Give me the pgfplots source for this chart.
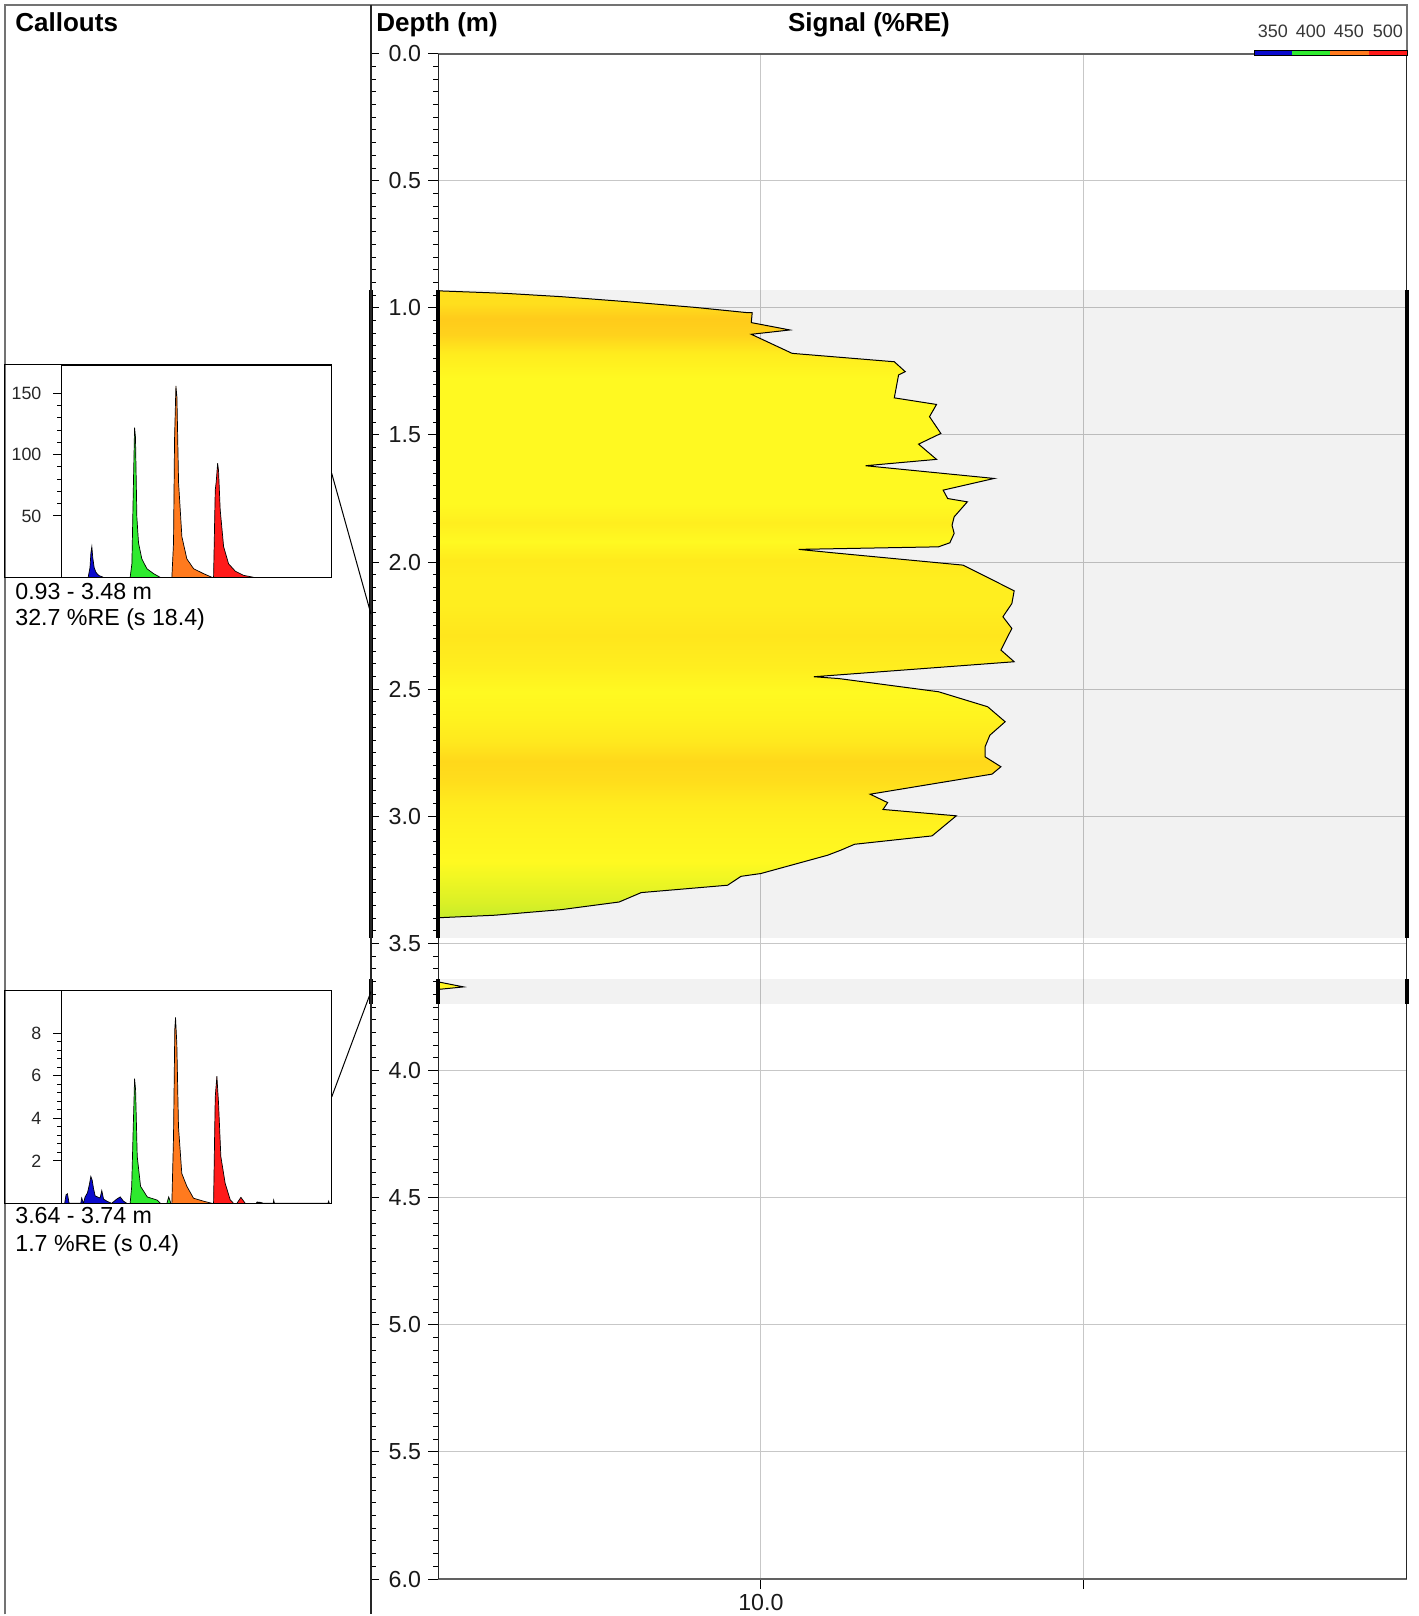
\documentclass[border=0pt]{standalone}
\usepackage{pgfplots}
\pgfplotsset{compat=1.18}
\usepackage{pgfplotstable}
\usepackage{fontspec}
\setmainfont{Liberation Sans}

\definecolor{cyel}{HTML}{FFF521}
\definecolor{sh1}{HTML}{C6EC2A}
\definecolor{sh2}{HTML}{DAF026}
\definecolor{sh3}{HTML}{EEF623}
\definecolor{shY}{HTML}{FFF921}
\definecolor{sh5}{HTML}{FFF31F}
\definecolor{sh6}{HTML}{FFEC1E}
\definecolor{sh7}{HTML}{FFDD1C}
\definecolor{sh8}{HTML}{FFD81B}
\definecolor{sh9}{HTML}{FFE81E}
\definecolor{sh10}{HTML}{FFEE1F}
\definecolor{sh11}{HTML}{FFE61D}
\definecolor{sh12}{HTML}{FFEA1D}
\definecolor{sh13}{HTML}{FFD21C}
\definecolor{sh14}{HTML}{FFCB1B}
\definecolor{sh15}{HTML}{FFDF1D}
\definecolor{cblue}{HTML}{0A0ACD}
\definecolor{cgreen}{HTML}{2EEA2E}
\definecolor{corange}{HTML}{FF7A1E}
\definecolor{cred}{HTML}{FF1A1A}

\pgfdeclareverticalshading{depthbands}{100bp}{color(0bp)=(sh1); color(25bp)=(sh1); color(26.2bp)=(sh2); color(28bp)=(sh3); color(29.5bp)=(shY); color(32bp)=(sh5); color(34bp)=(sh6); color(36bp)=(sh7); color(37.5bp)=(sh8); color(39bp)=(sh9); color(41bp)=(sh5); color(43bp)=(shY); color(45bp)=(sh10); color(47.5bp)=(sh11); color(50bp)=(sh10); color(52bp)=(sh10); color(53.5bp)=(sh12); color(55bp)=(shY); color(56.5bp)=(sh10); color(58bp)=(shY); color(68bp)=(shY); color(70bp)=(sh6); color(71.5bp)=(sh13); color(72.8bp)=(sh14); color(74bp)=(sh15); color(75bp)=(sh15); color(100bp)=(sh15)}

\pgfplotstableread{
s d
1.00 0.933
1.62 0.943
2.41 0.956
3.87 0.976
6.23 0.998
9.11 1.019
9.40 1.019
9.34 1.058
12.3 1.087
9.34 1.104
12.5 1.179
25.9 1.212
28.0 1.251
26.7 1.264
25.9 1.354
35.0 1.380
33.3 1.428
36.1 1.494
30.8 1.536
35.0 1.596
21.1 1.621
52.8 1.671
36.7 1.717
37.9 1.750
43.6 1.763
39.7 1.822
39.1 1.855
39.7 1.887
38.5 1.924
35.5 1.940
13.1 1.950
16.6 1.963
42.3 2.012
60.9 2.113
59.9 2.163
56.2 2.215
59.9 2.261
55.4 2.346
60.9 2.392
14.6 2.451
17.4 2.458
35.5 2.510
50.4 2.569
57.1 2.628
51.2 2.681
49.5 2.726
49.5 2.766
55.4 2.805
52.0 2.834
21.8 2.913
24.7 2.946
23.9 2.973
40.3 2.998
33.9 3.077
19.5 3.110
17.7 3.133
16.1 3.153
10.0 3.225
8.68 3.236
7.89 3.271
4.26 3.300
3.64 3.337
2.41 3.367
1.50 3.389
1.00 3.399
}\profile

\begin{document}
\begin{tikzpicture}
\fill[white] (0,0) rectangle (709.5bp,-808bp);

% depth scale line (separator) with ticks pointing right
\begin{axis}[at={(185.5bp,-26.8bp)}, anchor=north west, scale only axis,
  width=33.5bp, height=762.7bp, xmin=0, xmax=1, ymin=0, ymax=6, y dir=reverse,
  axis line style={draw=none}, xtick=\empty,
  ytick={0,0.5,1,1.5,2,2.5,3,3.5,4,4.5,5,5.5,6}, yticklabels={},
  minor y tick num=9, ytick pos=left, tick align=inside,
  major tick length=4bp, minor tick length=2.5bp,
  tick style={black, line width=0.5bp}, clip=false]
\addplot[black, line width=2bp] coordinates {(0,0.93) (0,3.48)};
\addplot[black, line width=2bp] coordinates {(0,3.64) (0,3.74)};
\end{axis}

% main signal axis
\begin{axis}[at={(219bp,-26.8bp)}, anchor=north west, scale only axis,
  width=484.3bp, height=762.7bp,
  xmode=log, xmin=1, xmax=1000, ymin=0, ymax=6, y dir=reverse, clip=false,
  xtick={10,100}, xticklabels={10.0,{}}, minor x tick style={draw=none},
  ytick={0,0.5,1,1.5,2,2.5,3,3.5,4,4.5,5,5.5,6},
  yticklabels={0.0,0.5,1.0,1.5,2.0,2.5,3.0,3.5,4.0,4.5,5.0,5.5,6.0},
  minor y tick num=9, ytick pos=left, xtick pos=bottom,
  tick align=outside, major tick length=5bp, minor tick length=2.5bp,
  tick style={black, line width=0.5bp},
  grid=major, major grid style={black!22, line width=0.5bp},
  separate axis lines,
  x axis line style={draw=black!62, line width=1.1bp},
  y axis line style={draw=black!85, line width=0.5bp},
  tick label style={font=\fontsize{11.6bp}{13bp}\selectfont, text=black!90},
  xticklabel style={inner sep=0pt, yshift=-2.6bp}]
\addplot[fill=black, fill opacity=0.05, draw=none] coordinates {(1,0.93) (1000,0.93) (1000,3.48) (1,3.48)};
\addplot[fill=black, fill opacity=0.05, draw=none] coordinates {(1,3.64) (1000,3.64) (1000,3.74) (1,3.74)};
\addplot[draw=black, line width=0.5bp, shade, shading=depthbands] table[x=s,y=d]{\profile};
\addplot[draw=black, line width=0.5bp, fill=cyel] coordinates {(1,3.651) (1.2,3.671) (1,3.681)};
\addplot[black, line width=2bp] coordinates {(1,0.93) (1,3.48)};
\addplot[black, line width=2bp] coordinates {(1,3.64) (1,3.74)};
\addplot[black, line width=2bp] coordinates {(1000,0.93) (1000,3.48)};
\addplot[black, line width=2bp] coordinates {(1000,3.64) (1000,3.74)};
\end{axis}

% callout 1 spectrum
\begin{axis}[at={(30.5bp,-182.5bp)}, anchor=north west, scale only axis,
  width=135.35bp, height=106.15bp, xmin=335, xmax=629, ymin=0, ymax=173,
  xtick=\empty, ytick={50,100,150}, yticklabels={50,100,150},
  minor y tick num=4, ytick pos=left, tick align=outside,
  major tick length=3.8bp, minor tick length=1.8bp,
  tick style={black, line width=0.5bp},
  axis line style={black, line width=0.5bp},
  tick label style={font=\fontsize{8.9bp}{10bp}\selectfont, text=black!85},
  yticklabel style={xshift=-2.5bp}]
\addplot[fill=cblue, draw=black, line width=0.35bp] coordinates {(364.5,0) (366.5,8) (367.5,20) (368.5,25) (369.5,16) (371,8) (373,4) (376,1.5) (381,0)};
\addplot[fill=cgreen, draw=black, line width=0.35bp] coordinates {(410.1,0) (412.0,11) (413.8,82) (414.9,122) (415.9,114) (417.4,49) (419.2,28) (422.8,15) (428.3,7) (435.5,3) (442.7,0)};
\addplot[fill=corange, draw=black, line width=0.35bp] coordinates {(455.4,0) (457.2,28) (458.3,112) (459.8,156) (460.9,147) (462.7,77) (466.3,33) (471.7,15) (479.0,7) (489.8,3) (498.9,0)};
\addplot[fill=cred, draw=black, line width=0.35bp] coordinates {(500.7,0) (502.5,71) (503.6,78) (505.1,93) (506.1,87) (507.9,55) (511.6,25) (517,11) (524.3,5) (533.3,1.6) (544.2,0)};
\end{axis}

% callout 2 spectrum
\begin{axis}[at={(30.5bp,-495.35bp)}, anchor=north west, scale only axis,
  width=135.35bp, height=106.3bp, xmin=335, xmax=629, ymin=0, ymax=10,
  xtick=\empty, ytick={2,4,6,8}, yticklabels={2,4,6,8},
  minor y tick num=4, ytick pos=left, tick align=outside,
  major tick length=3.8bp, minor tick length=1.8bp,
  tick style={black, line width=0.5bp},
  axis line style={black, line width=0.5bp},
  tick label style={font=\fontsize{8.9bp}{10bp}\selectfont, text=black!85},
  yticklabel style={xshift=-2.5bp}]
\addplot[fill=cblue, draw=black, line width=0.35bp] coordinates {(339,0) (340.5,0.4) (342,0.45) (343.8,0) (356.5,0) (357.5,0.25) (359.4,0) (361.2,0.3) (363.8,0.5) (365.9,0.9) (367.4,1.26) (368.8,1.1) (370.3,0.7) (372.1,0.35) (374.6,0.3) (377.5,0.25) (379.3,0.6) (381.2,0.2) (384.8,0.1) (390,0) (395.6,0.2) (399.3,0.3) (402.9,0.1) (406.5,0)};
\addplot[fill=cgreen, draw=black, line width=0.35bp] coordinates {(410.1,0) (411.8,0.8) (413.4,3.5) (414.2,4.7) (414.9,5.86) (416.0,5.35) (417.8,2.2) (421.4,0.8) (428.7,0.3) (439.5,0.15) (443,0)};
\addplot[fill=cgreen, draw=black, line width=0.35bp] coordinates {(450,0) (452,0.3) (454.3,0)};
\addplot[fill=corange, draw=black, line width=0.35bp] coordinates {(455.4,0) (457.2,3.15) (458.6,8.2) (459.4,8.74) (460.8,7.5) (462.6,3.6) (466.2,1.4) (471.7,0.8) (478.9,0.24) (489.8,0.1) (498.9,0)};
\addplot[fill=cred, draw=black, line width=0.35bp] coordinates {(500.7,0) (502.5,5.0) (504.3,5.98) (506.1,4.7) (508.6,2.2) (513.3,0.94) (518.8,0.16) (522.4,0)};
\addplot[fill=cred, draw=black, line width=0.35bp] coordinates {(526,0) (530.4,0.28) (535.1,0)};
\addplot[fill=black, draw=black, line width=0.35bp] coordinates {(547,0) (548,0.06) (551,0.05) (555,0) (565.5,0) (566,0.15) (566.8,0) (625,0) (625.7,0.1) (626.4,0)};
\end{axis}

\begin{scope}[x=0.5bp, y=-0.5bp]
% outer frame and separator
\draw[black!55, line width=1bp] (5,1614.5) -- (5,5) -- (1407,5) -- (1407,53.6);
\draw[black!85, line width=0.8bp] (371,5) -- (371,1614.5);
% callout boxes
\draw[black, line width=0.5bp] (5,365) rectangle (331.7,577.3);
\draw[black, line width=0.5bp] (5,990.7) rectangle (331.7,1203.3);
% connectors
\draw[black, line width=0.5bp] (331.7,473.3) -- (371,614.1);
\draw[black, line width=0.5bp] (331.7,1097) -- (371,991.6);
% titles
\node[anchor=base west, inner sep=0, font=\fontsize{13bp}{15bp}\selectfont\bfseries] at (15,31.5) {Callouts};
\node[anchor=base west, inner sep=0, font=\fontsize{13bp}{15bp}\selectfont\bfseries] at (376,31.5) {Depth (m)};
\node[anchor=base, inner sep=0, font=\fontsize{13bp}{15bp}\selectfont\bfseries] at (869,31.5) {Signal (\%RE)};
% callout texts
\node[anchor=base west, inner sep=0, font=\fontsize{11.6bp}{13bp}\selectfont] at (15,599.3) {0.93 - 3.48 m};
\node[anchor=base west, inner sep=0, font=\fontsize{11.6bp}{13bp}\selectfont] at (15,626) {32.7 \%RE (s 18.4)};
\node[anchor=base west, inner sep=0, font=\fontsize{11.6bp}{13bp}\selectfont] at (15,1224) {3.64 - 3.74 m};
\node[anchor=base west, inner sep=0, font=\fontsize{11.6bp}{13bp}\selectfont] at (15,1251.7) {1.7 \%RE (s 0.4)};
% wavelength colour legend
\fill[cblue] (1254,50) rectangle (1292.3,55);
\fill[cgreen] (1292.3,50) rectangle (1330,55);
\fill[corange] (1330,50) rectangle (1369,55);
\fill[cred] (1369,50) rectangle (1407,55);
\draw[black, line width=0.4bp] (1254,50) rectangle (1407,55);
\foreach \xx/\lab in {1273/350,1311/400,1349/450,1388/500}
  \node[anchor=base, inner sep=0, text=black!78, font=\fontsize{9bp}{11bp}\selectfont] at (\xx,37.3) {\lab};
\end{scope}
\end{tikzpicture}
\end{document}
